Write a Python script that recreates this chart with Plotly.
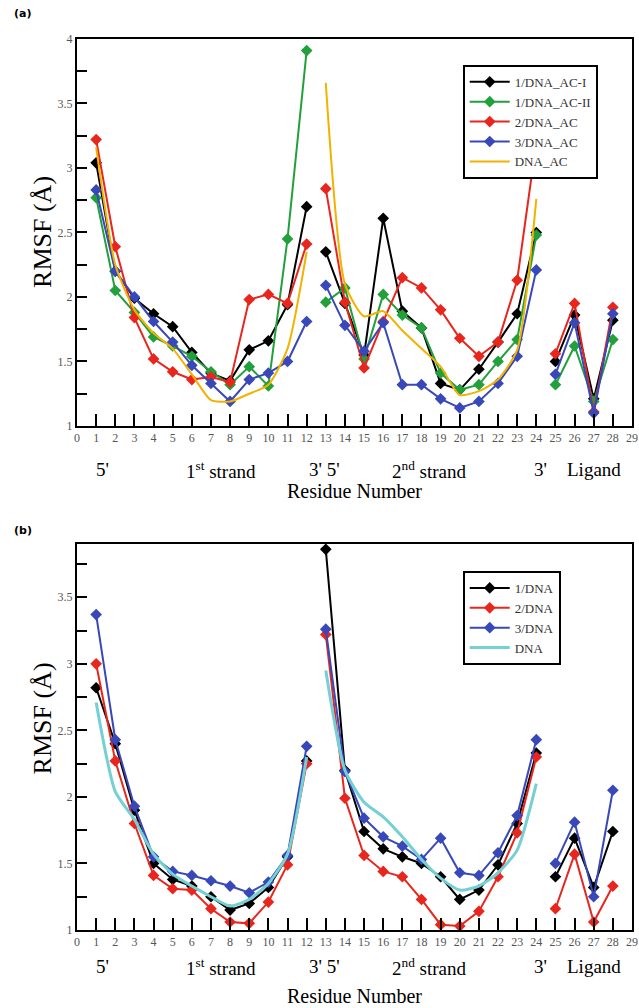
import plotly.graph_objects as go

# ---------------- data ----------------
residues = list(range(1, 29))          # 1..24 DNA, 25..28 ligand
x_ticks = list(range(0, 30))

# Panel (a)
a_names = ["1/DNA_AC-I", "1/DNA_AC-II", "2/DNA_AC", "3/DNA_AC"]
a_dna_ac_I = [3.04, 2.20, 1.99, 1.87, 1.77, 1.57, 1.41, 1.35, 1.59, 1.66, 1.94, 2.70,
              2.35, 1.95, 1.55, 2.61, 1.89, 1.76, 1.33, 1.28, 1.44, 1.65, 1.87, 2.50,
              1.50, 1.86, 1.21, 1.82]
a_dna_ac_II = [2.77, 2.05, 1.88, 1.69, 1.62, 1.54, 1.42, 1.32, 1.46, 1.31, 2.45, 3.91,
               1.96, 2.07, 1.52, 2.02, 1.86, 1.76, 1.41, 1.28, 1.32, 1.50, 1.67, 2.48,
               1.32, 1.62, 1.19, 1.67]
a_2_dna_ac = [3.22, 2.39, 1.84, 1.52, 1.42, 1.36, 1.38, 1.34, 1.98, 2.02, 1.95, 2.41,
              2.84, 1.96, 1.45, 1.81, 2.15, 2.07, 1.90, 1.68, 1.54, 1.65, 2.13, 3.20,
              1.56, 1.95, 1.11, 1.92]
a_3_dna_ac = [2.83, 2.20, 2.00, 1.81, 1.65, 1.47, 1.33, 1.19, 1.36, 1.41, 1.50, 1.81,
              2.09, 1.78, 1.58, 1.80, 1.32, 1.32, 1.21, 1.14, 1.19, 1.33, 1.54, 2.21,
              1.40, 1.80, 1.10, 1.87]
a_dna_ac = [3.16, 2.25, 1.90, 1.72, 1.60, 1.40, 1.20, 1.19, 1.25, 1.32, 1.60, 2.35,
            3.66, 2.10, 1.85, 1.89, 1.74, 1.60, 1.46, 1.24, 1.27, 1.36, 1.59, 2.76]

# Panel (b)
b_names = ["1/DNA", "2/DNA", "3/DNA"]
b_1_dna = [2.82, 2.40, 1.90, 1.50, 1.38, 1.33, 1.25, 1.15, 1.20, 1.32, 1.55, 2.27,
           3.86, 2.20, 1.74, 1.61, 1.55, 1.50, 1.40, 1.23, 1.30, 1.49, 1.80, 2.33,
           1.40, 1.69, 1.32, 1.74]
b_2_dna = [3.00, 2.27, 1.80, 1.41, 1.31, 1.30, 1.16, 1.06, 1.05, 1.21, 1.49, 2.25,
           3.22, 1.99, 1.56, 1.44, 1.40, 1.23, 1.04, 1.03, 1.14, 1.40, 1.73, 2.30,
           1.16, 1.57, 1.06, 1.33]
b_3_dna = [3.37, 2.43, 1.93, 1.55, 1.44, 1.41, 1.37, 1.33, 1.28, 1.36, 1.56, 2.38,
           3.26, 2.19, 1.84, 1.70, 1.63, 1.53, 1.69, 1.43, 1.41, 1.58, 1.86, 2.43,
           1.50, 1.81, 1.25, 2.05]
b_dna = [2.71, 2.04, 1.83, 1.57, 1.42, 1.33, 1.25, 1.18, 1.23, 1.35, 1.57, 2.30,
         2.95, 2.20, 1.96, 1.85, 1.70, 1.53, 1.39, 1.30, 1.33, 1.43, 1.60, 2.10]

region_labels = ["5'", "1<sup>st</sup> strand", "3' 5'", "2<sup>nd</sup> strand", "3'", "Ligand"]
region_pos = [1.35, 7.5, 12.95, 18.4, 24.2, 27.0]

# ---------------- helpers ----------------
def segmented(xs, ys):
    """Insert gaps after residue 12 and 24 (strand / ligand breaks)."""
    ox, oy = [], []
    for x, y in zip(xs, ys):
        if ox and x in (13, 25):
            ox.append(None)
            oy.append(None)
        ox.append(x)
        oy.append(y)
    return ox, oy

SERIF = "Liberation Serif"
fig = go.Figure()

a_cols = ["#000000", "#22a03c", "#e8261e", "#3848b8"]
for name, vals, col in zip(a_names, [a_dna_ac_I, a_dna_ac_II, a_2_dna_ac, a_3_dna_ac], a_cols):
    xs, ys = segmented(residues, vals)
    fig.add_trace(go.Scatter(x=xs, y=ys, name=name, mode="lines+markers",
                             line=dict(color=col, width=2),
                             marker=dict(symbol="diamond", size=9, color=col),
                             xaxis="x", yaxis="y", legend="legend"))
xs, ys = segmented(residues[:24], a_dna_ac)
fig.add_trace(go.Scatter(x=xs, y=ys, name="DNA_AC", mode="lines",
                         line=dict(color="#f2b200", width=2, shape="spline", smoothing=0.6),
                         xaxis="x", yaxis="y", legend="legend"))

b_cols = ["#000000", "#e8261e", "#3848b8"]
for name, vals, col in zip(b_names, [b_1_dna, b_2_dna, b_3_dna], b_cols):
    xs, ys = segmented(residues, vals)
    fig.add_trace(go.Scatter(x=xs, y=ys, name=name, mode="lines+markers",
                             line=dict(color=col, width=2),
                             marker=dict(symbol="diamond", size=9, color=col),
                             xaxis="x2", yaxis="y2", legend="legend2"))
xs, ys = segmented(residues[:24], b_dna)
fig.add_trace(go.Scatter(x=xs, y=ys, name="DNA", mode="lines",
                         line=dict(color="#74d0d4", width=3, shape="spline", smoothing=0.6),
                         xaxis="x2", yaxis="y2", legend="legend2"))

axis_common = dict(showline=True, linecolor="black", linewidth=2, mirror=True,
                   showgrid=False, zeroline=False, ticks="inside", automargin=False,
                   tickcolor="black", tickwidth=2,
                   tickfont=dict(family=SERIF, size=12, color="#555555"))

fig.update_layout(
    width=639, height=1008,
    margin=dict(l=77, r=7, t=39, b=78, autoexpand=False),
    plot_bgcolor="white", paper_bgcolor="white",
    showlegend=True,
    xaxis=dict(domain=[0, 1], range=[0, 29], tickvals=x_ticks, ticklen=12,
               anchor="y", **axis_common),
    yaxis=dict(domain=[0.5657, 1], range=[1, 4], dtick=0.5, ticklen=10,
               minor=dict(dtick=0.25, ticks="inside", ticklen=10, tickcolor="black", tickwidth=2),
               anchor="x", **axis_common),
    xaxis2=dict(domain=[0, 1], range=[0, 29], tickvals=x_ticks, ticklen=12,
                anchor="y2", **axis_common),
    yaxis2=dict(domain=[0, 0.4332], range=[1, 3.9], dtick=0.5, ticklen=10,
                minor=dict(dtick=0.25, ticks="inside", ticklen=10, tickcolor="black", tickwidth=2),
                anchor="x2", **axis_common),
    legend=dict(x=0.695, y=0.971, xanchor="left", yanchor="top",
                bgcolor="white", bordercolor="black", borderwidth=2,
                font=dict(family=SERIF, size=13, color="#333333"),
                tracegroupgap=0, itemwidth=40),
    legend2=dict(x=0.695, y=0.403, xanchor="left", yanchor="top",
                 bgcolor="white", bordercolor="black", borderwidth=2,
                 font=dict(family=SERIF, size=13, color="#333333"),
                 tracegroupgap=0, itemwidth=40),
)

ann = []
# region labels below x axes
for ref, yrow, yttl in (("x", 0.5163, 0.4927), ("x2", -0.0415, -0.074)):
    for lab, pos in zip(region_labels, region_pos):
        ann.append(dict(x=pos, y=yrow, xref=ref, yref="paper", text=lab, showarrow=False,
                        font=dict(family=SERIF, size=19, color="black"),
                        xanchor="center", yanchor="middle"))
    ann.append(dict(x=0.5, y=yttl, xref="paper", yref="paper", text="Residue Number",
                    showarrow=False, font=dict(family=SERIF, size=20, color="black"),
                    xanchor="center", yanchor="middle"))
# y titles
for yy in (0.783, 0.237):
    ann.append(dict(x=-0.062, y=yy, xref="paper", yref="paper", text="RMSF (Å)",
                    textangle=-90, showarrow=False,
                    font=dict(family=SERIF, size=26, color="black"),
                    xanchor="center", yanchor="middle"))
# panel labels
ann.append(dict(x=-0.118, y=1.029, xref="paper", yref="paper", text="<b>(a)</b>",
                showarrow=False, font=dict(family="DejaVu Sans", size=11, color="black"),
                xanchor="left", yanchor="middle"))
ann.append(dict(x=-0.118, y=0.448, xref="paper", yref="paper", text="<b>(b)</b>",
                showarrow=False, font=dict(family="DejaVu Sans", size=11, color="black"),
                xanchor="left", yanchor="middle"))
fig.update_layout(annotations=ann)

fig.write_html("out.html", config={"displayModeBar": False},
               post_script="document.body.style.margin='0px';document.body.style.padding='0px';")
